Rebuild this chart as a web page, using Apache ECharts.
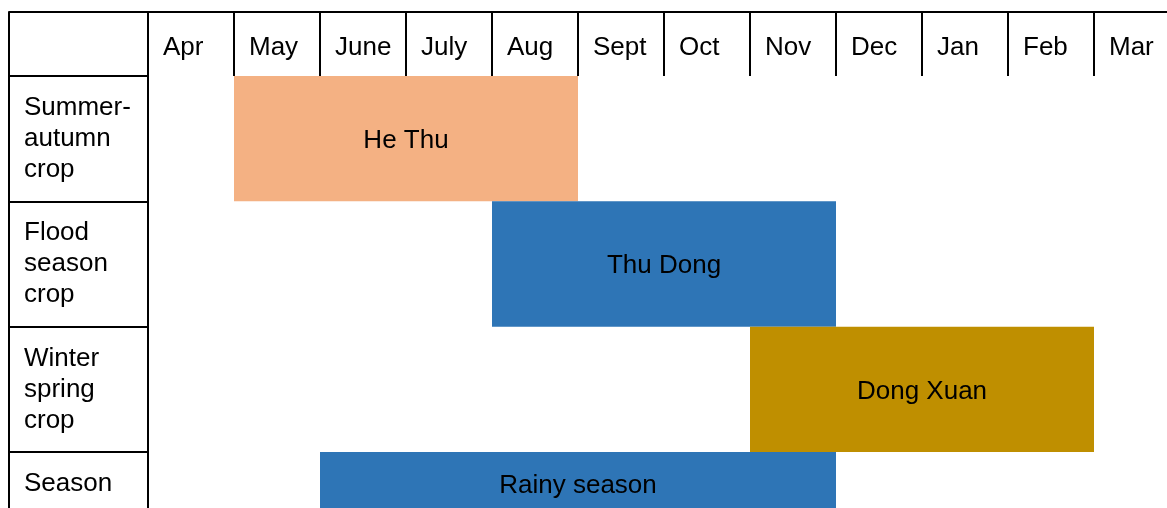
<!DOCTYPE html>
<html>
<head>
<meta charset="utf-8">
<script src="https://cdn.jsdelivr.net/npm/echarts@6/dist/echarts.min.js"></script>
<style>
html,body{margin:0;padding:0;background:#fff;}
#c{width:1167px;height:508px;}
</style>
</head>
<body>
<div id="c"></div>
<script>
// ---- data ----
const months = ['Apr','May','June','July','Aug','Sept','Oct','Nov','Dec','Jan','Feb','Mar'];
const cropRows = ['Summer-\nautumn\ncrop','Flood\nseason\ncrop','Winter\nspring\ncrop'];
const seasonRows = ['Season'];
const cropNames = ['He Thu','Thu Dong','Dong Xuan'];
const cropStart = [1, 4, 7];   // month index where the period starts
const cropEnd = [5, 8, 11];    // month index where the period ends (exclusive)
const cropColors = ['#F4B183','#2E75B6','#BF8F00'];
const seasonNames = ['Rainy season'];
const seasonStart = [2];
const seasonEnd = [8];
const seasonColors = ['#2E75B6'];

const FONT = 'Liberation Sans';
const LINE = {color:'#000', width:2};

function makeRender(names, colors){
  return function(params, api){
    const i = params.dataIndex;
    const p0 = api.coord([api.value(1), api.value(0)]);
    const p1 = api.coord([api.value(2), api.value(0)]);
    const h = api.size([0,1])[1];
    return {
      type:'rect',
      shape:{x:p0[0], y:p0[1]-h/2, width:p1[0]-p0[0], height:h},
      style:{fill:colors[i]},
      textContent:{style:{text:names[i], fontSize:26, fill:'#000', fontFamily:FONT}},
      textConfig:{position:'inside', offset:[0,2]}
    };
  };
}

const rowLabel = {
  show:true, inside:true, margin:15, interval:0,
  fontSize:26, lineHeight:31, color:'#000', fontFamily:FONT, align:'left',
  padding:[5,0,0,0]
};

const chart = echarts.init(document.getElementById('c'), null, {renderer:'canvas'});
chart.setOption({
  animation:false,
  backgroundColor:'#fff',
  textStyle:{fontFamily:FONT},
  grid:[
    {left:148, top:76, width:1032, height:376, outerBoundsMode:'none', containLabel:false},
    {left:148, top:452, width:1032, height:64, outerBoundsMode:'none', containLabel:false},
    {left:9, top:76, width:139, height:376, outerBoundsMode:'none', containLabel:false},
    {left:9, top:452, width:139, height:64, outerBoundsMode:'none', containLabel:false}
  ],
  xAxis:[
    {gridIndex:0, type:'value', position:'top', min:0, max:12, interval:1,
     axisLine:{show:false},
     axisTick:{show:true, inside:false, length:64, lineStyle:LINE},
     splitLine:{show:false},
     axisLabel:{show:true, margin:15, fontSize:26, lineHeight:26, color:'#000', fontFamily:FONT,
       align:'left', padding:[0,0,0,15], showMaxLabel:false,
       formatter:function(v){ return months[v] || ''; }}},
    {gridIndex:0, type:'value', position:'top', offset:64, min:0, max:12,
     axisLine:{show:true, lineStyle:LINE}, axisTick:{show:false}, axisLabel:{show:false}, splitLine:{show:false}},
    {gridIndex:1, type:'value', min:0, max:12, show:false},
    {gridIndex:2, type:'category', position:'top', data:[''], boundaryGap:true,
     axisLine:{show:false},
     axisTick:{show:true, inside:false, length:64, interval:0, lineStyle:LINE},
     axisLabel:{show:false}, splitLine:{show:false}},
    {gridIndex:2, type:'value', position:'top', offset:64, min:0, max:1,
     axisLine:{show:true, lineStyle:LINE}, axisTick:{show:false}, axisLabel:{show:false}, splitLine:{show:false}},
    {gridIndex:3, type:'value', min:0, max:1, show:false}
  ],
  yAxis:[
    {gridIndex:0, type:'category', data:cropRows, inverse:true,
     axisLine:{show:true, lineStyle:LINE}, axisTick:{show:false}, axisLabel:{show:false}, splitLine:{show:false}},
    {gridIndex:1, type:'category', data:seasonRows, inverse:true,
     axisLine:{show:true, lineStyle:LINE}, axisTick:{show:false}, axisLabel:{show:false}, splitLine:{show:false}},
    {gridIndex:2, type:'category', data:cropRows, inverse:true,
     axisLine:{show:true, lineStyle:LINE}, axisTick:{show:false},
     splitLine:{show:true, interval:0, lineStyle:LINE},
     axisLabel:rowLabel},
    {gridIndex:3, type:'category', data:seasonRows, inverse:true,
     axisLine:{show:true, lineStyle:LINE}, axisTick:{show:false},
     splitLine:{show:true, interval:0, lineStyle:LINE},
     axisLabel:rowLabel}
  ],
  series:[
    {type:'custom', xAxisIndex:0, yAxisIndex:0,
     renderItem:makeRender(cropNames, cropColors),
     encode:{x:[1,2], y:0},
     data:cropNames.map(function(n,i){ return [i, cropStart[i], cropEnd[i]]; })},
    {type:'custom', xAxisIndex:2, yAxisIndex:1,
     renderItem:makeRender(seasonNames, seasonColors),
     encode:{x:[1,2], y:0},
     data:seasonNames.map(function(n,i){ return [i, seasonStart[i], seasonEnd[i]]; })}
  ]
});
</script>
</body>
</html>
